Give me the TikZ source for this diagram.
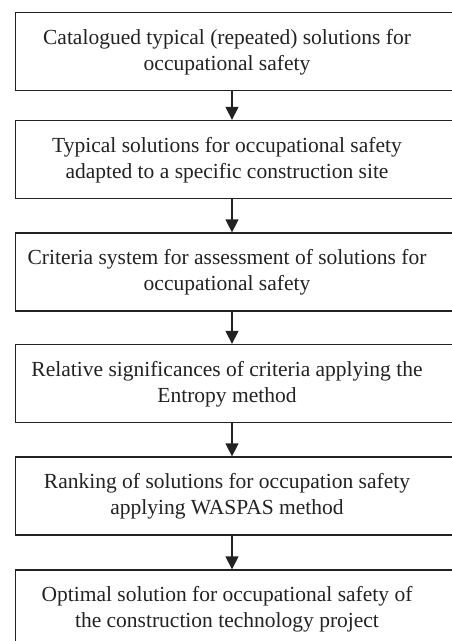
\documentclass[tikz,border=0pt]{standalone}
\usepackage{fontspec}
\setmainfont{Liberation Serif}
\usetikzlibrary{arrows.meta}
\definecolor{ink}{HTML}{222222}
\begin{document}
\begin{tikzpicture}[x=1pt,y=1pt,
  stepbox/.style={draw=ink,line width=1.3pt,rectangle,minimum width=439pt,minimum height=78pt,inner sep=0pt,anchor=west},
  steptext/.style={align=center,text=ink,font=\fontsize{21.5}{26}\selectfont,inner sep=0pt},
  flow/.style={draw=ink,line width=1.3pt,-{Triangle[width=13pt,length=13pt]}}]
\useasboundingbox (0,0) rectangle (452,-641);
\node[stepbox] (b1) at (15,-51.5) {};
\node[stepbox] (b2) at (15,-159.5) {};
\node[stepbox] (b3) at (15,-272) {};
\node[stepbox] (b4) at (15,-383.5) {};
\node[stepbox] (b5) at (15,-496) {};
\node[stepbox] (b6) at (15,-609) {};
\node[steptext] (t1) at (227,-52) {Catalogued typical (repeated) solutions for\\occupational safety};
\node[steptext] (t2) at (227,-160) {Typical solutions for occupational safety\\adapted to a specific construction site};
\node[steptext] (t3) at (227,-272.5) {Criteria system for assessment of solutions for\\occupational safety};
\node[steptext] (t4) at (227,-384) {Relative significances of criteria applying the\\Entropy method};
\node[steptext] (t5) at (227,-496.5) {Ranking of solutions for occupation safety\\applying WASPAS method};
\node[steptext] (t6) at (227,-609.5) {Optimal solution for occupational safety of\\the construction technology project};
\coordinate (ax) at (232,0);
\draw[flow] (b1.south -| ax) -- (b2.north -| ax);
\draw[flow] (b2.south -| ax) -- (b3.north -| ax);
\draw[flow] (b3.south -| ax) -- (b4.north -| ax);
\draw[flow] (b4.south -| ax) -- (b5.north -| ax);
\draw[flow] (b5.south -| ax) -- (b6.north -| ax);
\end{tikzpicture}
\end{document}
